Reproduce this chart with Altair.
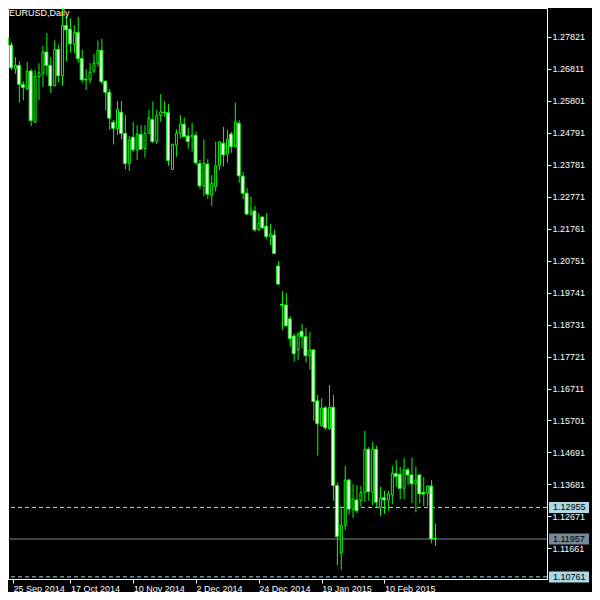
import json
import altair as alt
import pandas as pd

# ---- daily EURUSD candles ----
opens = [1.2778, 1.2756, 1.2681, 1.2692, 1.2632, 1.2617, 1.2674, 1.2513, 1.2656, 1.2667,
         1.2734, 1.2692, 1.2627, 1.2742, 1.2659, 1.2818, 1.2806, 1.2758, 1.2796, 1.2713,
         1.2648, 1.2646, 1.2674, 1.2698, 1.2739, 1.2642, 1.2607, 1.2512, 1.2492, 1.2544,
         1.2477, 1.2382, 1.2465, 1.2425, 1.2474, 1.2429, 1.2477, 1.2521, 1.2451, 1.2533,
         1.2544, 1.2543, 1.2363, 1.2440, 1.2477, 1.2506, 1.2469, 1.2465, 1.2471, 1.2382,
         1.2311, 1.2380, 1.2282, 1.2309, 1.2375, 1.2446, 1.2412, 1.2475, 1.2435, 1.2509,
         1.2342, 1.2288, 1.2223, 1.2232, 1.2172, 1.2213, 1.2184, 1.2151, 1.2156, 1.2058,
         1.1937, 1.1935, 1.1891, 1.1837, 1.1793, 1.1852, 1.1835, 1.1775, 1.1793, 1.1632,
         1.1554, 1.1610, 1.1545, 1.1612, 1.1365, 1.1151, 1.1238, 1.1382, 1.1290, 1.1319,
         1.1317, 1.1343, 1.1479, 1.1343, 1.1479, 1.1296, 1.1326, 1.1319, 1.1335, 1.1403,
         1.1400, 1.1356, 1.1414, 1.1398, 1.1370, 1.1398, 1.1343, 1.1340, 1.1363, 1.1198]
highs = [1.2783, 1.2765, 1.2718, 1.2705, 1.2642, 1.2702, 1.2681, 1.2677, 1.2698, 1.2753,
         1.2794, 1.2718, 1.2771, 1.2758, 1.2888, 1.2848, 1.2840, 1.2819, 1.2845, 1.2742,
         1.2680, 1.2699, 1.2728, 1.2770, 1.2775, 1.2642, 1.2617, 1.2519, 1.2579, 1.2579,
         1.2535, 1.2469, 1.2513, 1.2502, 1.2503, 1.2503, 1.2551, 1.2578, 1.2551, 1.2601,
         1.2578, 1.2570, 1.2445, 1.2490, 1.2535, 1.2526, 1.2495, 1.2511, 1.2482, 1.2393,
         1.2458, 1.2396, 1.2345, 1.2451, 1.2453, 1.2497, 1.2488, 1.2482, 1.2574, 1.2519,
         1.2355, 1.2305, 1.2277, 1.2248, 1.2225, 1.2213, 1.2225, 1.2191, 1.2172, 1.2074,
         1.1979, 1.1972, 1.1900, 1.1845, 1.1849, 1.1875, 1.1863, 1.1849, 1.1796, 1.1651,
         1.1640, 1.1616, 1.1682, 1.1651, 1.1375, 1.1298, 1.1426, 1.1386, 1.1370, 1.1366,
         1.1363, 1.1537, 1.1486, 1.1502, 1.1490, 1.1361, 1.1348, 1.1348, 1.1427, 1.1445,
         1.1424, 1.1451, 1.1421, 1.1453, 1.1424, 1.1401, 1.1391, 1.1366, 1.1382, 1.1245]
lows = [1.2754, 1.2677, 1.2665, 1.2574, 1.2582, 1.2614, 1.2500, 1.2510, 1.2582, 1.2624,
        1.2659, 1.2605, 1.2626, 1.2638, 1.2627, 1.2706, 1.2732, 1.2730, 1.2701, 1.2637,
        1.2614, 1.2635, 1.2667, 1.2688, 1.2632, 1.2549, 1.2488, 1.2442, 1.2472, 1.2459,
        1.2364, 1.2358, 1.2418, 1.2393, 1.2424, 1.2400, 1.2477, 1.2446, 1.2443, 1.2514,
        1.2530, 1.2375, 1.2361, 1.2403, 1.2461, 1.2467, 1.2428, 1.2419, 1.2377, 1.2301,
        1.2279, 1.2270, 1.2248, 1.2293, 1.2361, 1.2372, 1.2384, 1.2416, 1.2435, 1.2321,
        1.2269, 1.2219, 1.2216, 1.2166, 1.2169, 1.2175, 1.2144, 1.2124, 1.2096, 1.1998,
        1.1856, 1.1868, 1.1803, 1.1756, 1.1761, 1.1798, 1.1753, 1.1730, 1.1569, 1.1459,
        1.1550, 1.1540, 1.1540, 1.1317, 1.1113, 1.1098, 1.1224, 1.1274, 1.1263, 1.1277,
        1.1298, 1.1313, 1.1317, 1.1303, 1.1296, 1.1269, 1.1275, 1.1285, 1.1306, 1.1361,
        1.1321, 1.1321, 1.1366, 1.1309, 1.1280, 1.1309, 1.1300, 1.1300, 1.1182, 1.1174]
closes = [1.2756, 1.2684, 1.2692, 1.2632, 1.2622, 1.2674, 1.2517, 1.2657, 1.2668, 1.2734,
          1.2691, 1.2627, 1.2742, 1.2659, 1.2818, 1.2804, 1.2760, 1.2796, 1.2713, 1.2646,
          1.2646, 1.2670, 1.2699, 1.2739, 1.2640, 1.2607, 1.2525, 1.2493, 1.2553, 1.2477,
          1.2382, 1.2456, 1.2425, 1.2474, 1.2427, 1.2477, 1.2526, 1.2451, 1.2534, 1.2545,
          1.2543, 1.2391, 1.2442, 1.2477, 1.2506, 1.2467, 1.2451, 1.2472, 1.2384, 1.2311,
          1.2382, 1.2285, 1.2319, 1.2375, 1.2450, 1.2409, 1.2458, 1.2435, 1.2513, 1.2343,
          1.2288, 1.2222, 1.2232, 1.2172, 1.2193, 1.2179, 1.2151, 1.2159, 1.2098, 1.2001,
          1.1934, 1.1869, 1.1829, 1.1781, 1.1842, 1.1835, 1.1775, 1.1793, 1.1630, 1.1560,
          1.1609, 1.1547, 1.1612, 1.1365, 1.1203, 1.1239, 1.1382, 1.1290, 1.1322, 1.1285,
          1.1343, 1.1479, 1.1345, 1.1479, 1.1312, 1.1324, 1.1319, 1.1338, 1.1403, 1.1393,
          1.1356, 1.1414, 1.1398, 1.1370, 1.1382, 1.1338, 1.1338, 1.1363, 1.1196, 1.11957]

x_tick_positions = [1.4, 16, 32, 48, 64, 80, 96]
x_tick_labels = ["25 Sep 2014", "17 Oct 2014", "10 Nov 2014", "2 Dec 2014",
                 "24 Dec 2014", "19 Jan 2015", "10 Feb 2015"]
y_tick_values = [1.27821, 1.26811, 1.25801, 1.24791, 1.23781, 1.22771, 1.21761,
                 1.20751, 1.19741, 1.18731, 1.17721, 1.16711, 1.15701, 1.14691,
                 1.13681, 1.12671, 1.11661]
level_prices = [1.12955, 1.11957, 1.10761]
level_colors = ["#add8e6", "#778899", "#add8e6"]
level_dashed = [True, False, True]
title_text = "EURUSD,Daily"

GREEN = "#00ff00"
FONT = "Liberation Sans"

df = pd.DataFrame({"bar": list(range(len(opens))), "open": opens, "high": highs,
                   "low": lows, "close": closes})
levels = pd.DataFrame({"price": level_prices, "color": level_colors, "dashed": level_dashed})

xs = alt.Scale(domain=[1.375, 136.125], nice=False, zero=False)
ys = alt.Scale(domain=[1.10694, 1.28730], nice=False, zero=False)

label_expr = json.dumps(x_tick_labels) + "[round(datum.value / 16)]"

x_axis = alt.Axis(values=x_tick_positions, labelExpr=label_expr, orient="bottom",
                  title=None, grid=False, labelAlign="left", labelFlush=False,
                  labelOverlap=False, tickSize=4, labelPadding=1, tickCount=50)
y_axis = alt.Axis(values=y_tick_values, format=".5f", orient="right", title=None,
                  grid=False, tickSize=4, labelPadding=1, labelFlush=False,
                  labelOverlap=False, tickCount=50)

dashed_lines = alt.Chart(levels).transform_filter("datum.dashed").mark_rule(
    strokeDash=[4, 3], strokeWidth=1, color="#add8e6").encode(
    y=alt.Y("price:Q", scale=ys, axis=y_axis))

bid_line = alt.Chart(levels).transform_filter("!datum.dashed").mark_rule(
    strokeWidth=1, color="#778899").encode(y=alt.Y("price:Q", scale=ys, axis=y_axis))

wicks = alt.Chart(df).mark_rule(color=GREEN, strokeWidth=1, clip=True).encode(
    x=alt.X("bar:Q", scale=xs, axis=x_axis),
    y=alt.Y("low:Q", scale=ys, axis=y_axis),
    y2="high:Q")

# bullish (and flat) candles: lime outline, black body
bull_bodies = alt.Chart(df).transform_filter("datum.close >= datum.open").mark_bar(
    size=2, stroke=GREEN, strokeWidth=1, fill="black", clip=True).encode(
    x=alt.X("bar:Q", scale=xs, axis=x_axis),
    y=alt.Y("open:Q", scale=ys, axis=y_axis),
    y2="close:Q")

# bearish candles: lime outline, white body
bear_bodies = alt.Chart(df).transform_filter("datum.close < datum.open").mark_bar(
    size=3, xOffset=-0.5, stroke=GREEN, strokeWidth=1, fill="white", clip=True).encode(
    x=alt.X("bar:Q", scale=xs, axis=x_axis),
    y=alt.Y("open:Q", scale=ys, axis=y_axis),
    y2="close:Q")

tags = alt.Chart(levels).mark_rule(strokeWidth=11, strokeCap="butt").encode(
    y=alt.Y("price:Q", scale=ys, axis=y_axis),
    x=alt.value(541), x2=alt.value(581),
    color=alt.Color("color:N", scale=None))

tag_text = alt.Chart(levels).mark_text(align="left", baseline="middle", font=FONT,
                                       fontSize=9, color="black").encode(
    y=alt.Y("price:Q", scale=ys, axis=y_axis),
    x=alt.value(545),
    text=alt.Text("price:Q", format=".5f"))

title = alt.Chart(pd.DataFrame({"t": [title_text]})).mark_text(
    align="left", baseline="alphabetic", font=FONT, fontSize=9, color="white").encode(
    x=alt.value(1), y=alt.value(8), text="t:N")

chart = alt.layer(dashed_lines, bid_line, wicks, bull_bodies, bear_bodies, tags,
                  tag_text, title).properties(
    width=539, height=571,
    autosize=alt.AutoSizeParams(type="none"),
    padding={"left": 0, "top": 0, "right": 45, "bottom": 13},
    background="black",
).configure_view(stroke="white", strokeWidth=1).configure_axis(
    labelColor="white", tickColor="white", domainColor="white",
    labelFont=FONT, labelFontSize=9, domainWidth=1, tickWidth=1)

chart.save("out.html", embed_options={"renderer": "svg", "actions": False})
